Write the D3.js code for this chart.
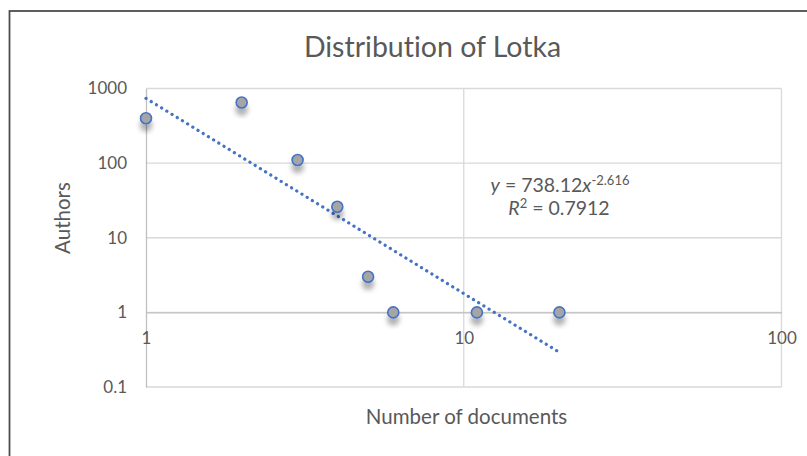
<!DOCTYPE html>
<html>
<head>
<meta charset="utf-8">
<script src="https://cdn.jsdelivr.net/npm/d3@7"></script>
<style>
  body { margin: 0; background: #fff; }
  svg { display: block; font-family: Lato, "Open Sans", sans-serif; font-variant-ligatures: none; }
  .tick text { fill: #595959; }
</style>
</head>
<body>
<div id="chart"></div>
<script>
// data
var docs = [1, 2, 3, 4, 5, 6, 11, 20];
var authors = [400, 650, 110, 26, 3, 1, 1, 1];

var xTicks = [1, 10, 100];
var yTicks = [0.1, 1, 10, 100, 1000];
var yTickLabels = ["0.1", "1", "10", "100", "1000"];

// power trendline shown on the chart
var trendA = 738.12;
var trendB = -2.616;
var trendRange = [1, 20];

var svgWidth = 807;
var svgHeight = 456;

var margin = { top: 88.5, right: 25.5, bottom: 69, left: 146 };
var width = svgWidth - margin.left - margin.right;
var height = svgHeight - margin.top - margin.bottom;

var svg = d3.select("#chart")
  .append("svg")
  .attr("width", svgWidth)
  .attr("height", svgHeight);

// drop shadow for the markers
var defs = svg.append("defs");
defs.append("filter")
  .attr("id", "shadow")
  .attr("x", "-100%").attr("y", "-100%")
  .attr("width", "300%").attr("height", "300%")
  .append("feDropShadow")
  .attr("dx", 0)
  .attr("dy", 7)
  .attr("stdDeviation", 2.5)
  .attr("flood-color", "#000")
  .attr("flood-opacity", 0.3);

// outer chart frame (runs off the right and bottom of the picture)
svg.append("rect")
  .attr("x", 9.5)
  .attr("y", 11)
  .attr("width", 900)
  .attr("height", 600)
  .attr("fill", "none")
  .attr("stroke", "#4d4d4d")
  .attr("stroke-width", 1.8);

svg.append("text")
  .attr("x", 432.5)
  .attr("y", 57)
  .attr("text-anchor", "middle")
  .attr("font-size", "28.5px")
  .attr("fill", "#595959")
  .text("Distribution of Lotka");

var chartGroup = svg.append("g")
  .attr("transform", `translate(${margin.left}, ${margin.top})`);

var xScale = d3.scaleLog()
  .domain([1, 100])
  .range([0, width]);

var yScale = d3.scaleLog()
  .domain([0.1, 1000])
  .range([height, 0]);

// horizontal gridlines
chartGroup.append("g")
  .selectAll("line")
  .data(yTicks)
  .enter()
  .append("line")
  .attr("x1", 0)
  .attr("x2", width)
  .attr("y1", d => yScale(d))
  .attr("y2", d => yScale(d))
  .attr("stroke", "#d9d9d9")
  .attr("stroke-width", 1.3);

// vertical gridlines
chartGroup.append("g")
  .selectAll("line")
  .data(xTicks.slice(1))
  .enter()
  .append("line")
  .attr("x1", d => xScale(d))
  .attr("x2", d => xScale(d))
  .attr("y1", 0)
  .attr("y2", height)
  .attr("stroke", "#d9d9d9")
  .attr("stroke-width", 1.3);

// y axis (at x = 1)
var leftAxis = d3.axisLeft(yScale)
  .tickValues(yTicks)
  .tickFormat((d, i) => yTickLabels[i])
  .tickSize(0)
  .tickPadding(19);

var yAxisG = chartGroup.append("g").call(leftAxis);
yAxisG.select(".domain").attr("stroke", "#bfbfbf").attr("stroke-width", 1.3);
yAxisG.selectAll("text").attr("font-size", "17px").attr("font-family", "Lato, sans-serif");

// x axis crosses at y = 1
var bottomAxis = d3.axisBottom(xScale)
  .tickValues(xTicks)
  .tickFormat(d3.format("d"))
  .tickSize(0);

var xAxisG = chartGroup.append("g")
  .attr("transform", `translate(0, ${yScale(1)})`)
  .call(bottomAxis);
xAxisG.select(".domain").attr("stroke", "#bfbfbf").attr("stroke-width", 1.3);
xAxisG.selectAll("text")
  .attr("y", 20)
  .attr("font-size", "17px")
  .attr("font-family", "Lato, sans-serif");

// axis titles
chartGroup.append("text")
  .attr("transform", "rotate(-90)")
  .attr("x", -(218 - margin.top))
  .attr("y", 70 - margin.left)
  .attr("text-anchor", "middle")
  .attr("font-size", "20.5px")
  .attr("fill", "#595959")
  .text("Authors");

chartGroup.append("text")
  .attr("x", 466.5 - margin.left)
  .attr("y", 424 - margin.top)
  .attr("text-anchor", "middle")
  .attr("font-size", "20.5px")
  .attr("fill", "#595959")
  .text("Number of documents");

// trendline
var trendLine = d3.line()
  .x(d => xScale(d))
  .y(d => yScale(trendA * Math.pow(d, trendB)));

chartGroup.append("path")
  .datum(trendRange)
  .attr("d", trendLine)
  .attr("fill", "none")
  .attr("stroke", "#4472c4")
  .attr("stroke-width", 3.2)
  .attr("stroke-linecap", "round")
  .attr("stroke-dasharray", "0.1 6");

// points
chartGroup.append("g")
  .selectAll("circle")
  .data(docs)
  .enter()
  .append("circle")
  .attr("cx", d => xScale(d))
  .attr("cy", (d, i) => yScale(authors[i]))
  .attr("r", 5.5)
  .attr("fill", "#a5a5a5")
  .attr("stroke", "#4472c4")
  .attr("stroke-width", 1.6)
  .attr("filter", "url(#shadow)");

// equation label
var eq = chartGroup.append("text")
  .attr("x", 560 - margin.left)
  .attr("y", 192 - margin.top)
  .attr("text-anchor", "middle")
  .attr("font-size", "19.5px")
  .attr("fill", "#595959");
eq.append("tspan").attr("font-style", "italic").text("y");
eq.append("tspan").text(" = 738.12");
eq.append("tspan").attr("font-style", "italic").text("x");
eq.append("tspan").attr("font-size", "13px").attr("dy", -7).text("-2.616");

var r2 = chartGroup.append("text")
  .attr("x", 559 - margin.left)
  .attr("y", 215 - margin.top)
  .attr("text-anchor", "middle")
  .attr("font-size", "19.5px")
  .attr("fill", "#595959");
r2.append("tspan").attr("font-style", "italic").text("R");
r2.append("tspan").attr("font-size", "13px").attr("dy", -7).text("2");
r2.append("tspan").attr("dy", 7).text(" = 0.7912");
</script>
</body>
</html>
